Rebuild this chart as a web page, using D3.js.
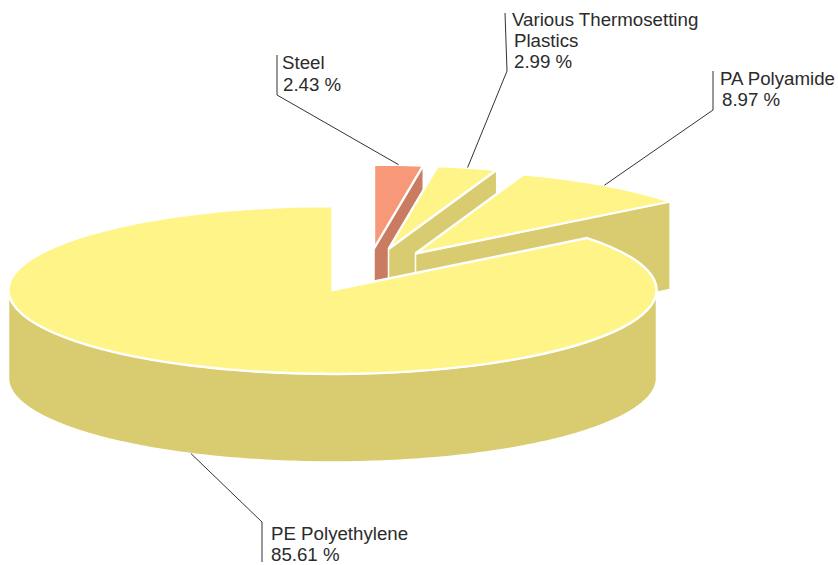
<!DOCTYPE html>
<html>
<head>
<meta charset="utf-8">
<script src="https://cdn.jsdelivr.net/npm/d3@7"></script>
<style>
  html, body { margin: 0; padding: 0; background: #fff; }
  text { font-family: "Liberation Sans", Arial, sans-serif; font-size: 18.7px; fill: #2b2b2b; }
</style>
</head>
<body>
<div id="chart"></div>
<script>
var categories = ["Steel", "Various Thermosetting", "PA Polyamide", "PE Polyethylene"];
var shares = [2.43, 2.99, 8.97, 85.61];
var extraLines = [[], ["Plastics"], [], []];

var width = 838, height = 565;
var rx = 324, ry = 84, depth = 88;

// where each slice's centre sits, slices are pulled out of the main pie
var centres = [[374, 248.5], [388.5, 249], [415.5, 253.5], [332.5, 290]];
var topColors = ["#f79878", "#fff487", "#fff487", "#fff487"];
var sideColors = ["#c97c62", "#d9cc70", "#d9cc70", "#d9cc70"];

// elbow and end of each leader line, the start comes from the slice
var leaderElbows = [[277, 95], [507, 71], [713, 110], [262, 522]];
var leaderEnds = [[277, 55], [505, 13], [713, 71], [262, 562]];
var labelPos = [
  [[282, 69], [283, 91]],
  [[512, 26], [514, 47], [514, 68]],
  [[720, 85], [722, 106]],
  [[271, 540], [271, 561]]
];

var svg = d3.select("#chart")
  .append("svg")
    .attr("width", width)
    .attr("height", height)
    .style("display", "block");

var slices = d3.pie()
  .sort(null)
  .value(function(d) { return d; })
  .startAngle(0)
  .endAngle(2 * Math.PI)(shares);

var arc = d3.arc().innerRadius(0).outerRadius(rx);

function rim(c, a, drop) {
  return [c[0] + rx * Math.sin(a), c[1] - ry * Math.cos(a) + (drop || 0)];
}

var line = d3.line();

// back to front, so the main slice ends up over the pulled out ones
slices.forEach(function(s, i) {
  var c = centres[i];
  var g = svg.append("g");

  if (i < 3) {
    // flat cut side along the closing edge of the slice
    g.append("path")
      .attr("d", line([c, rim(c, s.endAngle), rim(c, s.endAngle, depth), [c[0], c[1] + depth]]) + "Z")
      .attr("fill", sideColors[i])
      .attr("stroke", "#fff")
      .attr("stroke-width", 1.5);
  } else {
    // round outer wall, only the part that faces the viewer
    var from = Math.max(s.startAngle, Math.PI / 2);
    var to = Math.min(s.endAngle, 3 * Math.PI / 2);
    var angles = d3.range(0, 181).map(function(k) { return from + (to - from) * k / 180; });
    var upper = angles.map(function(a) { return rim(c, a); });
    var lower = angles.slice().reverse().map(function(a) { return rim(c, a, depth); });
    g.append("path")
      .attr("d", line(upper.concat(lower)) + "Z")
      .attr("fill", sideColors[i])
      .attr("stroke", "#fff")
      .attr("stroke-width", 1.5);
  }

  g.append("path")
    .attr("d", arc(s))
    .attr("transform", "translate(" + c[0] + "," + c[1] + ") scale(1," + (ry / rx) + ")")
    .attr("fill", topColors[i])
    .attr("stroke", "#fff")
    .attr("stroke-width", 2.4)
    .attr("stroke-linejoin", "miter")
    .attr("vector-effect", "non-scaling-stroke");
});

// leader lines and labels
slices.forEach(function(s, i) {
  var mid = (s.startAngle + s.endAngle) / 2;
  var drop = i === 3 ? depth : 0;
  var anchor = rim(centres[i], mid, drop);

  svg.append("path")
    .attr("d", line([anchor, leaderElbows[i], leaderEnds[i]]))
    .attr("fill", "none")
    .attr("stroke", "#333")
    .attr("stroke-width", 1);

  var lines = [categories[i]].concat(extraLines[i], [shares[i].toFixed(2) + " %"]);
  lines.forEach(function(t, k) {
    svg.append("text")
      .attr("x", labelPos[i][k][0])
      .attr("y", labelPos[i][k][1])
      .text(t);
  });
});
</script>
</body>
</html>
